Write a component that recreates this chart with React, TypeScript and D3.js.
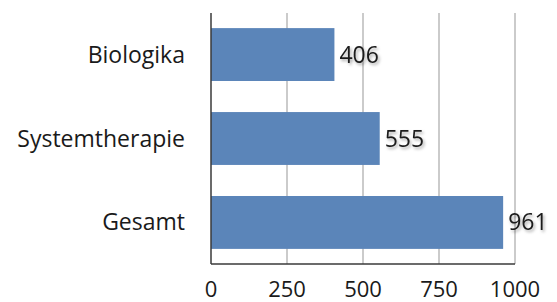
import React, { useEffect, useRef } from 'react';
import * as d3 from 'd3';

const categories = ['Biologika', 'Systemtherapie', 'Gesamt'];
const values = [406, 555, 961];
const xTicks = [0, 250, 500, 750, 1000];

const W = 557, H = 302;
const left = 211, right = 515, top = 13, bottom = 264;

export default function App() {
  const ref = useRef<SVGSVGElement>(null);

  useEffect(() => {
    const svg = d3.select(ref.current);
    svg.selectAll('*').remove();

    const defs = svg.append('defs');
    const f = defs.append('filter').attr('id', 'shadow').attr('x', '-20%').attr('y', '-20%').attr('width', '150%').attr('height', '160%');
    f.append('feDropShadow').attr('dx', 1.5).attr('dy', 2).attr('stdDeviation', 1.5)
      .attr('flood-color', '#000').attr('flood-opacity', 0.35);

    const x = d3.scaleLinear().domain([0, 1000]).range([left, right]);
    const y = d3.scaleBand().domain(categories).range([top, bottom]).paddingInner(0.37).paddingOuter(0.18);

    // gridlines
    svg.append('g').selectAll('line').data(xTicks.slice(1)).enter().append('line')
      .attr('x1', d => x(d)).attr('x2', d => x(d))
      .attr('y1', top).attr('y2', bottom)
      .attr('stroke', '#a8a8a8').attr('stroke-width', 1.2);

    svg.selectAll('.bar').data(values).enter().append('rect')
      .attr('class', 'bar')
      .attr('x', x(0))
      .attr('y', (d, i) => y(categories[i]) as number)
      .attr('width', d => x(d) - x(0))
      .attr('height', y.bandwidth())
      .attr('fill', '#5b85b9');

    // axes lines
    svg.append('line').attr('x1', left).attr('x2', left).attr('y1', top).attr('y2', bottom)
      .attr('stroke', '#3a3a3a').attr('stroke-width', 1.5);
    svg.append('line').attr('x1', left).attr('x2', right).attr('y1', bottom).attr('y2', bottom)
      .attr('stroke', '#3a3a3a').attr('stroke-width', 1.5);

    const font = "'Open Sans', sans-serif";

    svg.selectAll('.cat').data(categories).enter().append('text')
      .attr('x', 185)
      .attr('y', d => (y(d) as number) + y.bandwidth() / 2)
      .attr('dy', '0.35em')
      .attr('text-anchor', 'end')
      .attr('font-family', font).attr('font-size', 23)
      .attr('fill', '#1a1a1a')
      .text(d => d);

    svg.selectAll('.val').data(values).enter().append('text')
      .attr('x', d => x(d) + 5)
      .attr('y', (d, i) => (y(categories[i]) as number) + y.bandwidth() / 2)
      .attr('dy', '0.35em')
      .attr('font-family', font).attr('font-size', 23)
      .attr('fill', '#1a1a1a')
      .attr('filter', 'url(#shadow)')
      .text(d => d);

    svg.selectAll('.tick').data(xTicks).enter().append('text')
      .attr('x', d => x(d))
      .attr('y', 297)
      .attr('text-anchor', 'middle')
      .attr('font-family', font).attr('font-size', 22)
      .attr('fill', '#1a1a1a')
      .text(d => d);
  }, []);

  return (
    <svg ref={ref} width={W} height={H} style={{ position: 'absolute', left: 0, top: 0, background: '#fff' }} />
  );
}
